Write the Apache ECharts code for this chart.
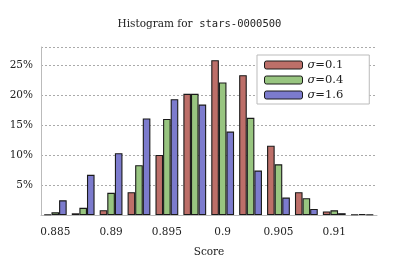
<!DOCTYPE html>
<html><head><meta charset="utf-8">
<script src="https://cdn.jsdelivr.net/npm/echarts@6/dist/echarts.min.js"></script>
<style>html,body{margin:0;padding:0;background:#fff}#c{width:399px;height:266px}</style>
</head><body><div id="c"></div>
<script>
var binCenters = [0.885, 0.8875, 0.89, 0.8925, 0.895, 0.8975, 0.9, 0.9025, 0.905, 0.9075, 0.91, 0.9125];
var sigma01 = [0.1, 0.28, 0.8, 3.8, 10.0, 20.2, 25.8, 23.3, 11.55, 3.8, 0.6, 0.08];
var sigma04 = [0.45, 1.2, 3.7, 8.3, 16.0, 20.2, 22.1, 16.2, 8.45, 2.8, 0.78, 0.15];
var sigma16 = [2.45, 6.7, 10.3, 16.1, 19.3, 18.4, 13.9, 7.4, 2.9, 1.0, 0.3, 0.08];
var seriesNames = ['0.1', '0.4', '1.6'];
var xTicks = [0.885, 0.89, 0.895, 0.9, 0.905, 0.91];
var yTicks = [0, 5, 10, 15, 20, 25];
var colors = ['#bd6f69', '#98c580', '#7c7bcd'];

var serif = 'DejaVu Serif';
function mk(vals, i) {
  return {
    type: 'bar', name: seriesNames[i],
    data: binCenters.map(function (x, k) { return [x, vals[k]]; }),
    barWidth: 7.6, barGap: '0%',
    itemStyle: { color: colors[i], borderColor: '#1a1a1a', borderWidth: 1.1 },
    emphasis: { disabled: true }
  };
}
var chart = echarts.init(document.getElementById('c'), null, { renderer: 'canvas' });
chart.setOption({
  animation: false,
  title: {
    text: '{a|Histogram for  }{b|stars-0000500}',
    left: 'center', top: 14,
    textStyle: { fontWeight: 'normal', rich: {
      a: { fontFamily: serif, fontSize: 10.5, fontWeight: 'normal', color: '#222' },
      b: { fontFamily: 'DejaVu Sans Mono', fontSize: 10.5, fontWeight: 'normal', color: '#222' }
    } }
  },
  grid: { left: 41, right: 22, top: 47, bottom: 51, containLabel: false },
  legend: {
    orient: 'vertical', left: 257, top: 55,
    backgroundColor: '#fff', borderColor: '#bbb', borderWidth: 1,
    padding: [4, 26, 3, 7],
    itemWidth: 38, itemHeight: 8, itemGap: 3,
    itemStyle: { borderColor: '#1a1a1a', borderWidth: 1 },
    formatter: function (n) { return '{i|σ}{t|=' + n + '}'; },
    textStyle: { rich: {
      i: { fontFamily: serif, fontStyle: 'italic', fontSize: 11.5, color: '#222' },
      t: { fontFamily: serif, fontSize: 11.5, color: '#222' }
    } },
    data: seriesNames
  },
  xAxis: {
    type: 'value', min: 0.88372, max: 0.91383,
    name: 'Score', nameLocation: 'middle', nameGap: 32,
    nameTextStyle: { fontFamily: serif, fontSize: 10.5, color: '#222' },
    axisLine: { show: true, lineStyle: { color: '#bbb', width: 1 } },
    axisTick: { show: false },
    splitLine: { show: false },
    axisLabel: { customValues: xTicks, fontFamily: serif, fontSize: 10.5, color: '#222', margin: 12,
      formatter: function (v) { return String(+v.toFixed(4)); } }
  },
  yAxis: {
    type: 'value', min: 0, max: 28, interval: 5,
    axisLine: { show: true, lineStyle: { color: '#bbb', width: 1 } },
    axisTick: { show: false },
    splitLine: { show: true, lineStyle: { color: '#aaa', type: [2, 2], width: 1 } },
    axisLabel: { customValues: yTicks.slice(1), fontFamily: serif, fontSize: 10.5, color: '#222', margin: 8,
      formatter: '{value}%' }
  },
  series: [mk(sigma01, 0), mk(sigma04, 1), mk(sigma16, 2)]
});
</script></body></html>
